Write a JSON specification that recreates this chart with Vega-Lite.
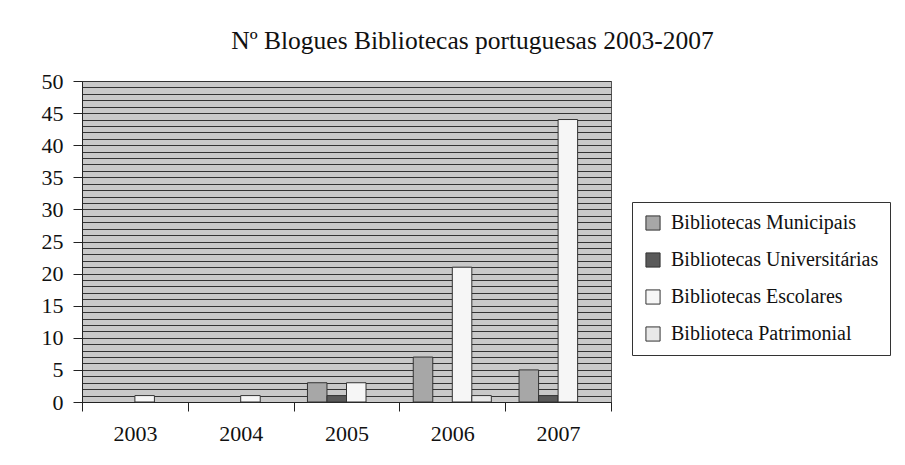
{
  "$schema": "https://vega.github.io/schema/vega-lite/v6.json",
  "autosize": {"type": "none"},
  "padding": {"left": 82, "top": 81, "right": 294, "bottom": 63},
  "width": 529,
  "height": 321,
  "background": "white",
  "title": {
    "text": "Nº Blogues Bibliotecas portuguesas 2003-2007",
    "font": "Liberation Serif",
    "fontSize": 25.5,
    "fontWeight": "normal",
    "color": "#111",
    "anchor": "middle",
    "dx": 126,
    "offset": 16
  },
  "data": {
    "values": [
      {"ano": "2003", "tipo": "Bibliotecas Escolares", "n": 1},
      {"ano": "2004", "tipo": "Bibliotecas Escolares", "n": 1},
      {"ano": "2005", "tipo": "Bibliotecas Municipais", "n": 3},
      {"ano": "2005", "tipo": "Bibliotecas Universitárias", "n": 1},
      {"ano": "2005", "tipo": "Bibliotecas Escolares", "n": 3},
      {"ano": "2006", "tipo": "Bibliotecas Municipais", "n": 7},
      {"ano": "2006", "tipo": "Bibliotecas Escolares", "n": 21},
      {"ano": "2006", "tipo": "Biblioteca Patrimonial", "n": 1},
      {"ano": "2007", "tipo": "Bibliotecas Municipais", "n": 5},
      {"ano": "2007", "tipo": "Bibliotecas Universitárias", "n": 1},
      {"ano": "2007", "tipo": "Bibliotecas Escolares", "n": 44}
    ]
  },
  "mark": {"type": "bar", "stroke": "#333", "strokeWidth": 1},
  "encoding": {
    "x": {
      "field": "ano",
      "type": "nominal",
      "scale": {"domain": ["2003", "2004", "2005", "2006", "2007"], "paddingInner": 0, "paddingOuter": 0},
      "axis": {
        "title": null,
        "labelAngle": 0,
        "tickBand": "extent",
        "tickSize": 9,
        "tickColor": "#222",
        "domainColor": "#222",
        "labelFont": "Liberation Serif",
        "labelFontSize": 22,
        "labelColor": "#111",
        "labelPadding": 12,
        "grid": false
      }
    },
    "xOffset": {
      "field": "tipo",
      "type": "nominal",
      "scale": {
        "domain": ["Bibliotecas Municipais", "Bibliotecas Universitárias", "Bibliotecas Escolares", "Biblioteca Patrimonial"],
        "paddingInner": 0,
        "paddingOuter": 0.71
      }
    },
    "y": {
      "field": "n",
      "type": "quantitative",
      "scale": {"domain": [0, 50], "nice": false},
      "axis": {
        "title": null,
        "values": [0,1,2,3,4,5,6,7,8,9,10,11,12,13,14,15,16,17,18,19,20,21,22,23,24,25,26,27,28,29,30,31,32,33,34,35,36,37,38,39,40,41,42,43,44,45,46,47,48,49,50],
        "labelExpr": "datum.value % 5 === 0 ? datum.label : ''",
        "labelOverlap": false,
        "labelFont": "Liberation Serif",
        "labelFontSize": 22,
        "labelColor": "#111",
        "labelPadding": 10,
        "tickSize": 9,
        "tickColor": "#222",
        "tickOpacity": {"condition": {"test": "datum.value % 5 === 0", "value": 1}, "value": 0},
        "domainColor": "#222",
        "grid": true,
        "gridColor": "#333",
        "gridWidth": 1,
        "gridOpacity": 1
      }
    },
    "color": {
      "field": "tipo",
      "type": "nominal",
      "scale": {
        "domain": ["Bibliotecas Municipais", "Bibliotecas Universitárias", "Bibliotecas Escolares", "Biblioteca Patrimonial"],
        "range": ["#a7a7a7", "#5a5a5a", "#f6f6f6", "#e8e8e8"]
      },
      "legend": {
        "title": null,
        "orient": "none",
        "legendX": 550,
        "legendY": 121,
        "symbolType": "square",
        "symbolSize": 200,
        "symbolStrokeColor": "#333",
        "symbolStrokeWidth": 1,
        "symbolOpacity": 1,
        "labelFont": "Liberation Serif",
        "labelFontSize": 20,
        "labelColor": "#111",
        "labelOffset": 8,
        "labelLimit": 400,
        "rowPadding": 17,
        "padding": 11,
        "strokeColor": "#333",
        "fillColor": "white"
      }
    }
  },
  "config": {
    "view": {"fill": "#c9c9c9", "stroke": "#555", "strokeWidth": 1},
    "axis": {"domainWidth": 1, "tickWidth": 1}
  }
}
